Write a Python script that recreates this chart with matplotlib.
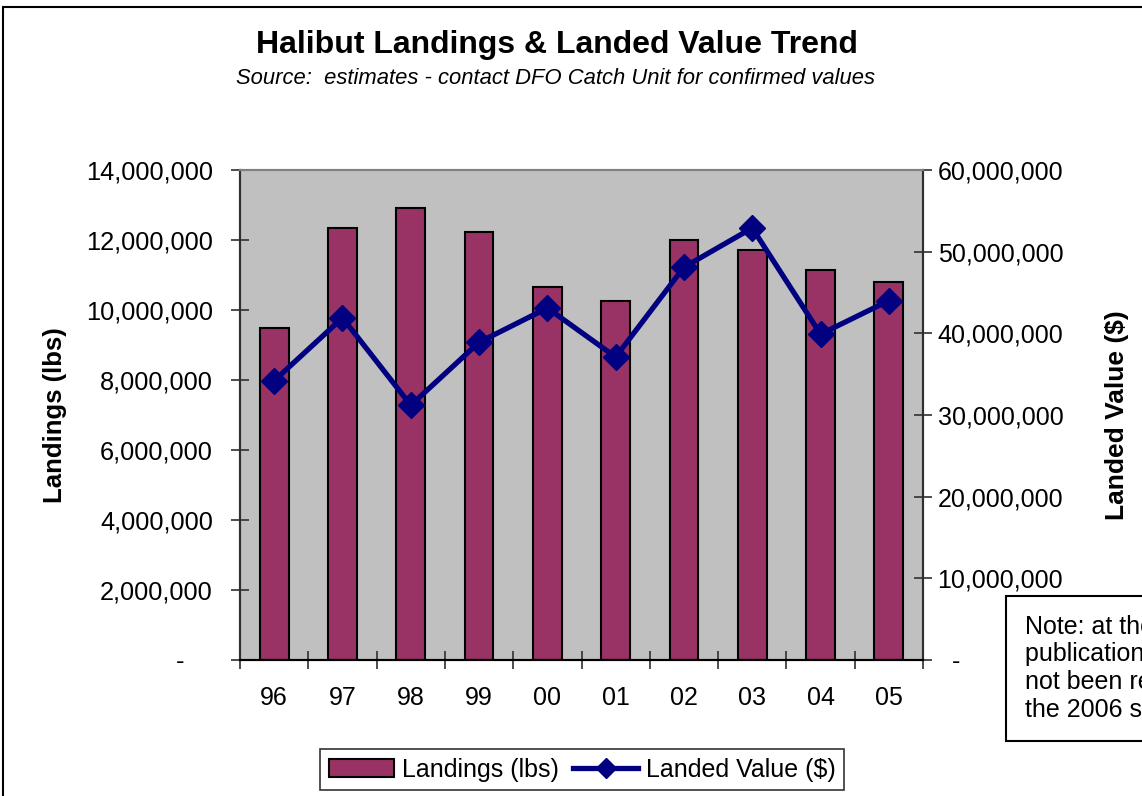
import matplotlib.pyplot as plt
import matplotlib.patches as mpatches
from matplotlib.lines import Line2D
from matplotlib.ticker import FuncFormatter, MultipleLocator
import numpy as np

plt.rcParams['font.family'] = ['Liberation Sans', 'DejaVu Sans']

years = ['96', '97', '98', '99', '00', '01', '02', '03', '04', '05']
landings = [9500000, 12340000, 12910000, 12230000, 10660000,
            10260000, 12000000, 11710000, 11140000, 10800000]
landed_value = [34200000, 41900000, 31200000, 38900000, 43100000,
                37100000, 48100000, 52900000, 39900000, 44000000]

fig = plt.figure(figsize=(11.42, 7.96), dpi=100)
ax = fig.add_axes([0.2102, 0.1709, 0.5980, 0.6155])
ax2 = ax.twinx()

x = np.arange(len(years))
ax.set_facecolor('#C0C0C0')
ax.bar(x, landings, width=0.42, color='#993366', edgecolor='black',
       linewidth=1.5, zorder=2)
ax2.plot(x, landed_value, color='#000080', linewidth=3.8, marker='D',
         markersize=13, zorder=3)

ax.set_xlim(-0.5, 9.5)
ax.set_ylim(0, 14000000)
ax2.set_ylim(0, 60000000)
ax.yaxis.set_major_locator(MultipleLocator(2000000))
ax2.yaxis.set_major_locator(MultipleLocator(10000000))

# zero shown as a dash, like an accounting format
ax.yaxis.set_major_formatter(FuncFormatter(
    lambda v, p: '-    ' if v == 0 else f'{v:,.0f}'))
ax2.yaxis.set_major_formatter(FuncFormatter(
    lambda v, p: '  -' if v == 0 else f'{v:,.0f}'))

# category labels centred, tick marks between categories
ax.set_xticks(x)
ax.set_xticklabels(years)
ax.set_xticks(np.arange(-0.5, 10, 1), minor=True)
ax.tick_params(axis='x', which='major', length=0, pad=19, labelsize=18)
ax.tick_params(axis='x', which='minor', direction='inout', length=13,
               width=1.2, color='#303030')
ax.tick_params(axis='y', direction='inout', length=13, width=1.2,
               pad=13, labelsize=18.3, color='#303030')
ax2.tick_params(axis='y', direction='inout', length=13, width=1.2,
                pad=4, labelsize=18, color='#303030')

for a in (ax, ax2):
    a.spines['top'].set_color('#808080')
    a.spines['top'].set_linewidth(1.5)
    a.spines['left'].set_linewidth(1.5)
    a.spines['right'].set_linewidth(1.5)
    a.spines['bottom'].set_linewidth(1.5)
    a.spines['left'].set_color('#303030')
    a.spines['right'].set_color('#303030')

ax.set_ylabel('Landings (lbs)', fontsize=18.5, fontweight='bold', labelpad=14)
ax2.set_ylabel('Landed Value ($)', fontsize=19, fontweight='bold',
               rotation=90, labelpad=30)

fig.text(0.488, 0.943, 'Halibut Landings & Landed Value Trend',
         ha='center', va='center', fontsize=23, fontweight='bold')
fig.text(0.486, 0.902,
         'Source:  estimates - contact DFO Catch Unit for confirmed values',
         ha='center', va='center', fontsize=15.8, style='italic')

handles = [mpatches.Patch(facecolor='#993366', edgecolor='black', linewidth=1.5),
           Line2D([], [], color='#000080', linewidth=3.8, marker='D', markersize=10)]
leg = fig.legend(handles, ['Landings (lbs)', 'Landed Value ($)'],
                 loc='center', bbox_to_anchor=(0.51, 0.033), ncol=2,
                 fontsize=18, frameon=True, fancybox=False, handlelength=2.6,
                 handletextpad=0.3, columnspacing=0.6, borderpad=0.35)
leg.get_frame().set_edgecolor('black')
leg.get_frame().set_linewidth(1.2)

fig.text(0.8975, 0.228, 'Note: at the time of\npublication data had\n'
         'not been released for\nthe 2006 season',
         ha='left', va='top', fontsize=18, linespacing=1.2,
         bbox=dict(boxstyle='square,pad=0.75', facecolor='white',
                   edgecolor='black', linewidth=1.5))

# chart area border
fig.patches.append(mpatches.Rectangle((0.0026, -0.1), 1.2, 0.1 + 0.991,
                                      transform=fig.transFigure, fill=False,
                                      edgecolor='black', linewidth=1.5))

fig.savefig('out.png', dpi=100)
